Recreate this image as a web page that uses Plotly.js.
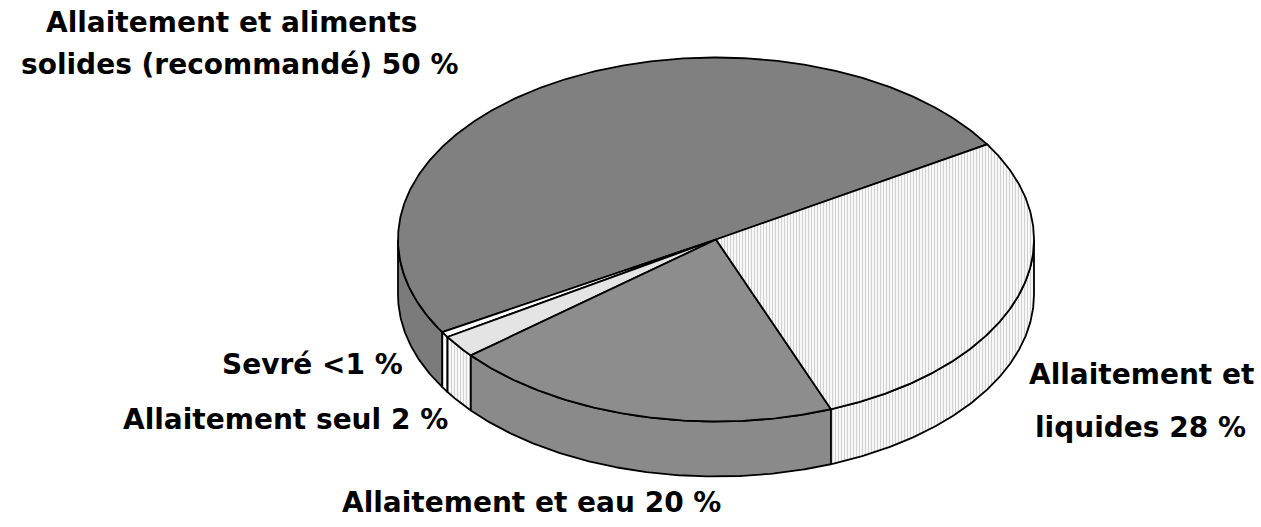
<!DOCTYPE html>
<html>
<head>
<meta charset="utf-8">
<script src="https://cdn.plot.ly/plotly-3.0.1.min.js"></script>
<style>html,body{margin:0;padding:0;background:#fff;}#chart{width:1261px;height:527px;}</style>
</head>
<body>
<div id="chart"></div>
<script>
// ---- data (counter-clockwise order starting from the upper-right boundary) ----
const categories = ['Allaitement et aliments solides (recommandé)', 'Sevré', 'Allaitement seul', 'Allaitement et eau', 'Allaitement et liquides'];
const values = [50, 0.5, 2, 20, 28];
const valueLabels = ['50 %', '<1 %', '2 %', '20 %', '28 %'];

// ---- styling ----
const topColors  = ['#808080', '#ffffff', '#e4e4e4', '#8d8d8d', '#f1f1f1'];
const sideColors = ['#7b7b7b', '#ffffff', '#f2f2f2', '#8a8a8a', '#ebebeb'];
const geom = {cx: 716, cy: 239.5, rx: 318, ry: 182, depth: 55, start: 31.5};

const total = values.reduce((a, b) => a + b, 0);
const rad = d => d * Math.PI / 180;
function pt(t, dy) {
  return [geom.cx + geom.rx * Math.cos(rad(t)), geom.cy - geom.ry * Math.sin(rad(t)) + (dy || 0)];
}
function arc(a0, a1, dy) {
  const pts = [];
  const n = Math.max(2, Math.ceil(Math.abs(a1 - a0) / 0.5));
  for (let i = 0; i <= n; i++) pts.push(pt(a0 + (a1 - a0) * i / n, dy));
  return pts;
}

const sideTraces = [];
const topTraces = [];
let acc = geom.start;
values.forEach((v, i) => {
  const a0 = acc, a1 = acc + v / total * 360;
  acc = a1;
  // top face
  const tp = [[geom.cx, geom.cy]].concat(arc(a0, a1, 0), [[geom.cx, geom.cy]]);
  const tr = {
    type: 'scatter', mode: 'lines', fill: 'toself',
    x: tp.map(p => p[0]), y: tp.map(p => p[1]),
    fillcolor: topColors[i], line: {color: '#000', width: 1.8},
    hoverinfo: 'text', text: categories[i] + ' ' + valueLabels[i], showlegend: false
  };
  if (i === 4) tr.fillpattern = {shape: '|', fgcolor: '#c4c4c4', bgcolor: '#f7f7f7', size: 3, solidity: 0.25};
  topTraces.push(tr);
  // visible side wall (front half: 180..360 deg)
  const s0 = Math.max(a0, 180), s1 = Math.min(a1, 360);
  if (s1 > s0) {
    const up = arc(s0, s1, 0);
    const dn = arc(s1, s0, geom.depth);
    const sp = up.concat(dn, [up[0]]);
    const st = {
      type: 'scatter', mode: 'lines', fill: 'toself',
      x: sp.map(p => p[0]), y: sp.map(p => p[1]),
      fillcolor: sideColors[i], line: {color: '#000', width: 1.8},
      hoverinfo: 'skip', showlegend: false
    };
    if (i === 4 || i === 2) st.fillpattern = {shape: '|', fgcolor: '#c4c4c4', bgcolor: '#f7f7f7', size: 3, solidity: 0.25};
    sideTraces.push(st);
  }
});

const font = {family: 'DejaVu Sans, Liberation Sans, Arial, sans-serif', size: 28, color: '#000'};
function ann(text, x, y) {
  return {text: '<b>' + text + '</b>', x: x, y: y, xref: 'x', yref: 'y', showarrow: false,
          xanchor: 'center', yanchor: 'middle', font: font};
}
const annotations = [
  ann('Allaitement et aliments', 231, 22),
  ann('solides (recommandé) ' + valueLabels[0], 240, 64),
  ann('Sevré ' + valueLabels[1], 312, 364),
  ann('Allaitement seul ' + valueLabels[2], 285, 419),
  ann('Allaitement et eau ' + valueLabels[3], 531, 502),
  ann('Allaitement et', 1141, 374),
  ann('liquides ' + valueLabels[4], 1140, 427)
];

const layout = {
  width: 1261, height: 527,
  margin: {l: 0, r: 0, t: 0, b: 0},
  paper_bgcolor: '#fff', plot_bgcolor: '#fff',
  xaxis: {range: [0, 1261], visible: false, fixedrange: true},
  yaxis: {range: [527, 0], visible: false, fixedrange: true},
  annotations: annotations,
  showlegend: false
};
Plotly.newPlot('chart', sideTraces.concat(topTraces), layout, {displayModeBar: false, staticPlot: true});
</script>
</body>
</html>
